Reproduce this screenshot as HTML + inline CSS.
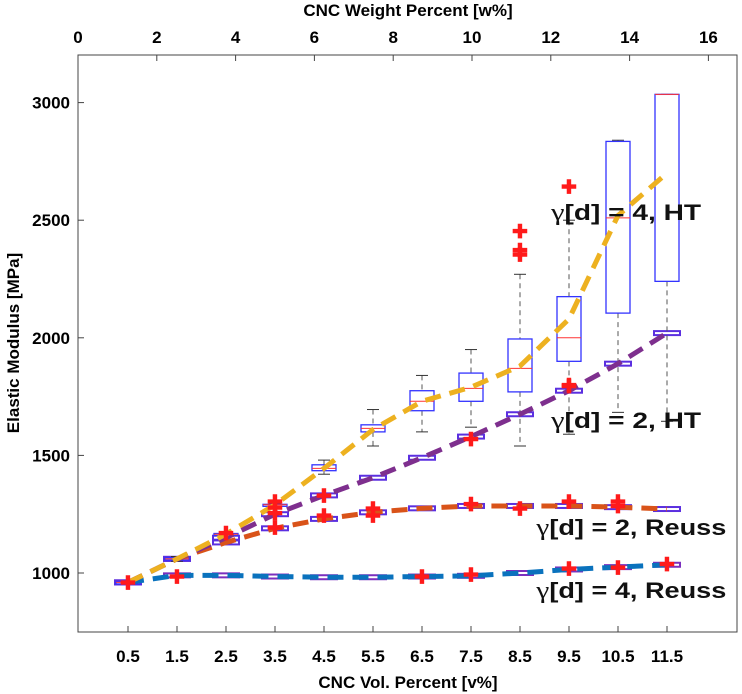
<!DOCTYPE html>
<html><head><meta charset="utf-8"><style>
body{margin:0;background:#fff;}
svg{display:block;font-family:"Liberation Sans",sans-serif;}
</style></head><body>
<svg id="chart" width="742" height="694"></svg>
<script>
const categories=["0.5","1.5","2.5","3.5","4.5","5.5","6.5","7.5","8.5","9.5","10.5","11.5"];
const topTicks=[0,2,4,6,8,10,12,14,16];
const yTicks=[1000,1500,2000,2500,3000];
const reuss4=[960,990,990,985,982,982,985,988,1000,1015,1025,1035];
const reuss2=[960,1060,1130,1190,1230,1258,1275,1285,1285,1285,1280,1272];
const ht2=[960,1060,1150,1250,1330,1405,1490,1580,1675,1775,1890,2020];
const ht4=[960,1060,1165,1290,1445,1610,1730,1790,1880,2080,2520,2700];
// HT gamma=4 box stats
const boxLo=[955,1050,1160,1285,1420,1540,1600,1620,1540,1590,1683,1645];
const boxQ1=[958,1055,1162,1288,1435,1600,1690,1730,1770,1900,2105,2240];
const boxMed=[960,1060,1165,1290,1445,1615,1730,1785,1870,2000,2510,3035];
const boxQ3=[962,1065,1168,1292,1460,1630,1775,1850,1995,2175,2835,3035];
const boxHi=[965,1070,1170,1295,1480,1695,1840,1950,2270,2500,2840,3035];
const outX=[0,1,2,3,3,3,3,4,4,5,5,6,7,7,7,8,8,8,8,9,9,9,9,10,10,10,11,9];
const outY=[955,980,1165,1190,1250,1275,1300,1240,1325,1240,1270,980,990,1290,1565,1270,2350,2370,2450,1015,1300,1790,2640,1020,1280,1300,1035,1795];
const labelText=["γ[d] = 4, HT","γ[d] = 2, HT","γ[d] = 2, Reuss","γ[d] = 4, Reuss"];
const labelIdx=[9,9,8.7,8.7];
const labelVal=[2535,1650,1196,928];

const NS="http://www.w3.org/2000/svg";
const svg=document.getElementById('chart');
const L=78,R=737,T=55,B=632;
const X=i=>128+49*i;
const Y=v=>573-(v-1000)*(117.6/500);
const XT=w=>78+39.4*w;
function el(tag,attrs,parent){const e=document.createElementNS(NS,tag);for(const k in attrs)e.setAttribute(k,attrs[k]);(parent||svg).appendChild(e);return e;}

let frame=el('rect',{x:L,y:T,width:R-L,height:B-T,fill:'none',stroke:'#444','stroke-width':1});



categories.forEach((c,i)=>{
  const x=X(i);
  el('line',{x1:x,y1:B,x2:x,y2:B-6,stroke:'#444'});
  const t=el('text',{x:x,y:662,'text-anchor':'middle','font-size':17,'font-weight':'bold'});
  t.textContent=c;
  
  
});
topTicks.forEach(w=>{
  const x=XT(w);
  el('line',{x1:x,y1:T,x2:x,y2:T+6,stroke:'#444'});
  const t=el('text',{x:x,y:43,'text-anchor':'middle','font-size':17,'font-weight':'bold'});
  t.textContent=w;
  
  
});
yTicks.forEach(v=>{
  const y=Y(v);
  el('line',{x1:L,y1:y,x2:L+6,y2:y,stroke:'#444'});
  const t=el('text',{x:L-8,y:y+6,'text-anchor':'end','font-size':17,'font-weight':'bold'});
  t.textContent=v;
  
  
});
let xt=el('text',{x:408,y:688,'text-anchor':'middle','font-size':17,'font-weight':'bold'});xt.textContent='CNC Vol. Percent [v%]';


let tt=el('text',{x:408,y:16,'text-anchor':'middle','font-size':17,'font-weight':'bold'});tt.textContent='CNC Weight Percent [w%]';


let yt=el('text',{x:0,y:0,'text-anchor':'middle','font-size':17,'font-weight':'bold',transform:'translate(19,343) rotate(-90)'});yt.textContent='Elastic Modulus [MPa]';



[[reuss4,'#7b2fbe'],[reuss2,'#5b2fe0'],[ht2,'#5b2fe0']].forEach(([s,col])=>{
  s.forEach((v,i)=>{
    const r=el('rect',{x:X(i)-13,y:Y(v)-2,width:26,height:4,fill:'none',stroke:col,'stroke-width':2});
    
    
  });
});
categories.forEach((c,i)=>{
  const x=X(i),g=el('g',{});
  
  
  el('line',{x1:x,y1:Y(boxHi[i]),x2:x,y2:Y(boxQ3[i]),stroke:'#555','stroke-dasharray':'5,4'},g);
  el('line',{x1:x,y1:Y(boxQ1[i]),x2:x,y2:Y(boxLo[i]),stroke:'#555','stroke-dasharray':'5,4'},g);
  el('line',{x1:x-6,y1:Y(boxHi[i]),x2:x+6,y2:Y(boxHi[i]),stroke:'#333'},g);
  el('line',{x1:x-6,y1:Y(boxLo[i]),x2:x+6,y2:Y(boxLo[i]),stroke:'#333'},g);
  el('rect',{x:x-12,y:Y(boxQ3[i]),width:24,height:Math.max(2,Y(boxQ1[i])-Y(boxQ3[i])),fill:'#fff',stroke:'#3333ff','stroke-width':1.3},g);
  el('line',{x1:x-12,y1:Y(boxMed[i]),x2:x+12,y2:Y(boxMed[i]),stroke:'#ff3333'},g);
});
[[reuss4,'#0a72bd','reuss-gamma4-line'],[reuss2,'#d95319','reuss-gamma2-line'],[ht2,'#7e2f8e','ht-gamma2-line'],[ht4,'#edb120','ht-gamma4-line']].forEach(([s,col,n])=>{
  const p=el('polyline',{points:s.map((v,i)=>X(i)+','+Y(v)).join(' '),fill:'none',stroke:col,'stroke-width':5,'stroke-dasharray':'16,9'});
  
  
});
outX.forEach((i,k)=>{
  const t=el('text',{x:X(i),y:Y(outY[k])+6,'text-anchor':'middle','font-size':19,'font-weight':'bold',fill:'#ff1a1a'});
  t.textContent='✚';
  
  
});
labelText.forEach((s,k)=>{
  const t=el('text',{x:X(labelIdx[k])-18,y:Y(labelVal[k])+8,'font-size':22,'font-weight':'bold',fill:'#111',textLength:(s.length>13?190:150),lengthAdjust:'spacingAndGlyphs'});
  const g1=el('tspan',{'font-family':'Liberation Serif, serif','font-weight':'normal','font-size':24},t);g1.textContent='γ';
  const g2=el('tspan',{},t);g2.textContent=s.slice(1);
  
  
});
</script>
</body></html>
